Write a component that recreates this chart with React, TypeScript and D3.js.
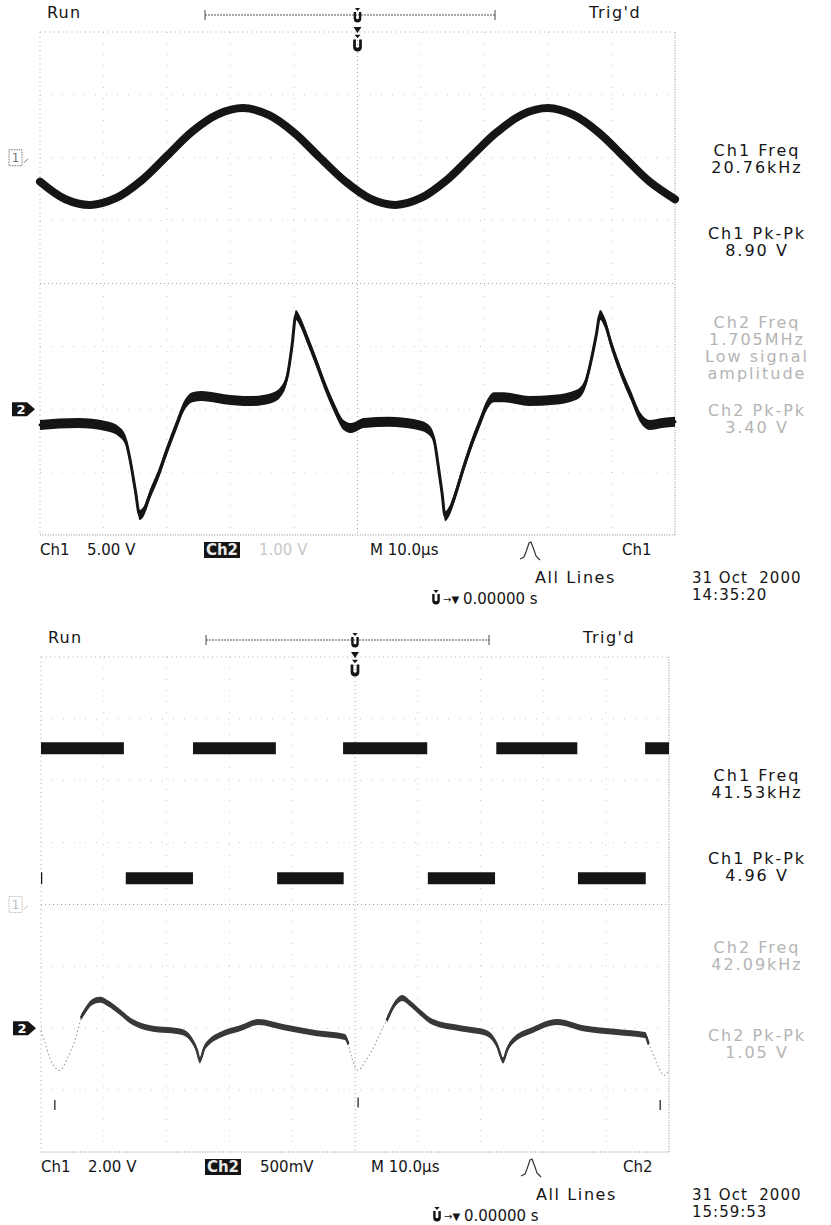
import * as d3 from "d3";

type Pt = [number, number];

// 10 divisions x 10.0 µs, trigger at centre; 8 vertical divisions
const TIME_DOMAIN: Pt = [-50, 50];
const DIV_DOMAIN: Pt = [-4, 4];

// ---------- screen 1 : 31 Oct 2000 14:35:20 ----------
// Ch1 (5.00 V/div, ground +2 div) : [µs, V]
const S1_CH1: Pt[] = [
  [-50, -1.9], [-46, -3.3], [-42, -3.75], [-38, -3.2], [-34, -1.8], [-30, 0.15],
  [-26, 2.1], [-22, 3.45], [-18, 3.95], [-14, 3.4], [-10, 2.0], [-6, 0.05],
  [-2, -1.85], [2, -3.25], [6, -3.75], [10, -3.2], [14, -1.8], [18, 0.15],
  [22, 2.05], [26, 3.45], [30, 3.95], [34, 3.4], [38, 2.0], [42, 0.05],
  [46, -1.9], [50, -3.3],
];
// Ch2 (1.00 V/div, ground -2 div) : [µs, V]
const S1_CH2: Pt[] = [
  [-50, -0.25], [-44, -0.22], [-39.5, -0.27], [-37.5, -0.36], [-36.5, -0.5], [-35.8, -0.81],
  [-35, -1.28], [-34.3, -1.68], [-33.7, -1.63], [-32.7, -1.36], [-31.4, -1.05], [-30, -0.65],
  [-28.5, -0.25], [-27.2, 0.07], [-26, 0.19], [-24.5, 0.21], [-21, 0.16], [-17, 0.13],
  [-13.5, 0.18], [-12, 0.29], [-11, 0.55], [-10.3, 1.02], [-9.7, 1.5], [-9, 1.39],
  [-8, 1.14], [-6.5, 0.75], [-5, 0.34], [-3.5, -0.01], [-2.2, -0.25], [-1, -0.3],
  [1, -0.22], [5, -0.2], [9, -0.24], [11, -0.31], [12, -0.46], [12.7, -0.89],
  [13.3, -1.32], [13.8, -1.7], [14.4, -1.63], [15.4, -1.36], [16.7, -0.93], [18, -0.54],
  [19.3, -0.2], [20.4, 0.07], [21.5, 0.19], [23, 0.19], [27, 0.13], [31, 0.15],
  [34.5, 0.23], [35.8, 0.39], [36.8, 0.78], [37.6, 1.18], [38.2, 1.5], [38.9, 1.39],
  [40, 1.02], [41.5, 0.59], [43, 0.23], [44.6, -0.14], [46, -0.25], [48, -0.22], [50, -0.2],
];
const S1_SETTINGS = ["5.00 V", "1.00 V", "M 10.0µs", "Ch1"];
const S1_STAMP = ["31 Oct  2000", "14:35:20"];
const S1_READOUTS = [
  ["Ch1 Freq", "20.76kHz"],
  ["Ch1 Pk-Pk", "8.90 V"],
  ["Ch2 Freq", "1.705MHz", "Low signal", "amplitude"],
  ["Ch2 Pk-Pk", "3.40 V"],
];

// ---------- screen 2 : 31 Oct 2000 15:59:53 ----------
// Ch1 (2.00 V/div, ground 0 div) square wave: [start µs, end µs] spans at each level
const S2_CH1_HIGH: Pt[] = [[-50, -36.8], [-25.8, -12.6], [-1.9, 11.5], [22.5, 35.4], [46.2, 50]];
const S2_CH1_LOW: Pt[] = [[-50, -49.8], [-36.5, -25.8], [-12.4, -1.8], [11.6, 22.3], [35.5, 46.3]];
const S2_CH1_LEVELS: Pt = [5.05, 0.85];
// Ch2 (500 mV/div, ground -2 div) : [µs, V]
const S2_CH2_A: Pt[] = [
  [-43.6, 0.09], [-42.6, 0.17], [-41.9, 0.21], [-40.6, 0.23], [-39.3, 0.2], [-37.9, 0.15],
  [-35.4, 0.05], [-32.6, 0.0], [-29.9, -0.015], [-27.5, -0.03], [-26, -0.095], [-25.2, -0.175],
  [-24.7, -0.26], [-24, -0.16], [-23.4, -0.12], [-21.5, -0.055], [-18.3, 0.0], [-15.4, 0.05],
  [-11.5, 0.01], [-6.1, -0.04], [-1.6, -0.07], [-1.1, -0.12],
];
const S2_CH2_B: Pt[] = [
  [5.1, 0.07], [6.4, 0.2], [7.5, 0.245], [8.8, 0.2], [9.9, 0.15], [12.4, 0.05],
  [16.7, 0.0], [21, -0.04], [22.6, -0.135], [23.6, -0.26], [24.2, -0.175], [25, -0.11],
  [28.3, -0.015], [32.2, 0.05], [36.3, 0.0], [41.7, -0.03], [46.2, -0.055], [46.7, -0.12],
];
const S2_CH2_FAINT: Pt[][] = [
  [[-50, -0.02], [-49.4, -0.11], [-48.6, -0.24], [-47, -0.34], [-45.7, -0.23], [-44.6, -0.095], [-43.6, 0.09]],
  [[-1.1, -0.12], [-0.5, -0.24], [0.5, -0.34], [1.6, -0.27], [2.7, -0.18], [3.5, -0.095], [5.1, 0.07]],
  [[46.7, -0.12], [47.3, -0.19], [48.2, -0.3], [49.2, -0.38], [50, -0.34]],
];
const S2_CH2_GLITCH: Pt[] = [[-47.8, -0.66], [0.5, -0.64], [48.6, -0.66]];
const S2_SETTINGS = ["2.00 V", "500mV", "M 10.0µs", "Ch2"];
const S2_STAMP = ["31 Oct  2000", "15:59:53"];
const S2_READOUTS = [
  ["Ch1 Freq", "41.53kHz"],
  ["Ch1 Pk-Pk", "4.96 V"],
  ["Ch2 Freq", "42.09kHz"],
  ["Ch2 Pk-Pk", "1.05 V"],
];

const FONT = "'DejaVu Sans', Verdana, sans-serif";
const INK = "#151515";
const DIM = "#b4b4b4";

type Frame = { left: number; right: number; top: number; bottom: number };

function scalesFor(f: Frame) {
  const x = d3.scaleLinear().domain(TIME_DOMAIN).range([f.left, f.right]);
  const div = d3.scaleLinear().domain(DIV_DOMAIN).range([f.bottom, f.top]);
  const chan = (offset: number, voltsPerDiv: number) => (v: number) => div(offset + v / voltsPerDiv);
  return { x, div, chan };
}

function TrigGlyph({ x, y, s = 1 }: { x: number; y: number; s?: number }) {
  return (
    <g transform={`translate(${x},${y}) scale(${s})`} fill={INK}>
      <path d="M-2.6,-8 L2.6,-8 L0,-5 Z" />
      <path d="M-3.8,-4 L-1.4,-4 L-1.4,2.6 Q0,4 1.4,2.6 L1.4,-4 L3.8,-4 L3.8,2.6 Q3.8,6.5 0,6.5 Q-3.8,6.5 -3.8,2.6 Z" />
    </g>
  );
}

function Graticule({ f }: { f: Frame }) {
  const { x, div } = scalesFor(f);
  const cols = d3.range(-50, 51, 10);
  const rows = d3.range(-4, 5, 1);
  const style = (v: number, lo: number, hi: number) =>
    v === 0
      ? { stroke: "#a4a4a4", dash: "1 3" }
      : v === hi
      ? { stroke: "#8c8c8c", dash: "1 1.6" }
      : v === lo
      ? { stroke: "#a8a8a8", dash: "1 3.5" }
      : { stroke: "#c8c8c8", dash: "1 10" };
  return (
    <g>
      {cols.map((t) => {
        const s = style(t, -50, 50);
        return <line key={`c${t}`} x1={x(t)} x2={x(t)} y1={f.top} y2={f.bottom} stroke={s.stroke} strokeDasharray={s.dash} />;
      })}
      {rows.map((r) => {
        const s = style(r, 4, -4);
        return <line key={`r${r}`} x1={f.left} x2={f.right} y1={div(r)} y2={div(r)} stroke={s.stroke} strokeDasharray={s.dash} />;
      })}
    </g>
  );
}

function Trace({ data, x, y, half, width, color, curve }: {
  data: Pt[]; x: (t: number) => number; y: (v: number) => number; half: number; width: number; color: string; curve: d3.CurveFactory;
}) {
  const area = d3.area<Pt>().x((d) => x(d[0])).y0((d) => y(d[1]) + half).y1((d) => y(d[1]) - half).curve(curve);
  const line = d3.line<Pt>().x((d) => x(d[0])).y((d) => y(d[1])).curve(curve);
  return (
    <g>
      <path d={area(data) ?? ""} fill={color} />
      <path d={line(data) ?? ""} fill="none" stroke={color} strokeWidth={width} strokeLinejoin="round" strokeLinecap="round" />
    </g>
  );
}

function Ch1Marker({ y, color }: { y: number; color: string }) {
  return (
    <g>
      <rect x={9} y={y - 8} width={13} height={16} fill="none" stroke={color} strokeDasharray="1.5 1" />
      <text x={15.5} y={y} dy="0.35em" textAnchor="middle" fontSize={12} fontFamily={FONT} fill={color}>1</text>
      <line x1={24} y1={y + 5} x2={28} y2={y + 1} stroke={color} />
    </g>
  );
}

function Ch2Marker({ y, x0 }: { y: number; x0: number }) {
  return (
    <g>
      <path d={`M${x0},${y - 7} L${x0 + 15},${y - 7} L${x0 + 23},${y} L${x0 + 15},${y + 7} L${x0},${y + 7} Z`} fill={INK} />
      <text x={x0 + 9} y={y} dy="0.36em" textAnchor="middle" fontSize={13} fontWeight="bold" fontFamily={FONT} fill="#fff">2</text>
    </g>
  );
}

function Chrome({ f, settings, stamp, readouts, dimFrom, ch2Dim }: {
  f: Frame; settings: string[]; stamp: string[]; readouts: string[][]; dimFrom: number; ch2Dim: boolean;
}) {
  const { x } = scalesFor(f);
  const head = f.top - 20;
  const bar = f.top - 17;
  const row = f.bottom + 15;
  const slots = [118, 201, 290, 378];
  const txt = { fontFamily: FONT, fontSize: 15, fill: INK } as const;
  const bl = f.left + 165;
  const br = f.right - 180;
  const trig = f.left + 480;
  return (
    <g>
      <text x={f.left + 7} y={head} dy="0.35em" {...txt} fontSize={16} letterSpacing={1.2}>Run</text>
      <text x={f.right - 86} y={head} dy="0.35em" {...txt} fontSize={16} letterSpacing={1.5}>Trig'd</text>
      <line x1={bl} x2={br} y1={bar} y2={bar} stroke="#555" strokeDasharray="2 1" />
      <line x1={bl} x2={bl} y1={bar - 5} y2={bar + 5} stroke="#444" />
      <line x1={br} x2={br} y1={bar - 5} y2={bar + 5} stroke="#444" />
      <TrigGlyph x={x(0)} y={bar + 1} />
      <path d={`M${x(0) - 4},${f.top - 5} L${x(0) + 4},${f.top - 5} L${x(0)},${f.top + 1} Z`} fill={INK} />
      <TrigGlyph x={x(0)} y={f.top + 12} s={1.15} />

      {readouts.map((lines, i) =>
        lines.map((s, j) => (
          <text key={`${i}-${j}`} x={757} y={f.top + slots[i] + j * 17} dy="0.35em" textAnchor="middle"
            {...txt} fontSize={16} letterSpacing={2} fill={i >= dimFrom ? DIM : INK}>{s}</text>
        ))
      )}

      <text x={f.left} y={row} dy="0.35em" {...txt}>Ch1</text>
      <text x={f.left + 47} y={row} dy="0.35em" {...txt}>{settings[0]}</text>
      <rect x={f.left + 164} y={row - 8} width={36} height={16} fill={INK} />
      <text x={f.left + 182} y={row} dy="0.35em" textAnchor="middle" {...txt} fontWeight="bold" fill="#e8e8e8">Ch2</text>
      <text x={f.left + 219} y={row} dy="0.35em" {...txt} fill={ch2Dim ? "#c8c8c8" : INK}>{settings[1]}</text>
      <text x={f.left + 330} y={row} dy="0.35em" {...txt}>{settings[2]}</text>
      <path d={`M${trig},${row + 9} l4,-2 l2,-5 l3,-9 l2,-1 l3,8 l2,6 l4,4`} fill="none" stroke="#333" strokeWidth={1.2} />
      <text x={f.left + 582} y={row} dy="0.35em" {...txt}>{settings[3]}</text>
      <text x={f.left + 495} y={f.bottom + 42} dy="0.35em" {...txt} fontSize={16} letterSpacing={1.6}>All Lines</text>
      <TrigGlyph x={f.left + 396} y={f.bottom + 63} />
      <text x={f.left + 403} y={f.bottom + 64} dy="0.35em" {...txt} fontSize={10}>→▼</text>
      <text x={f.left + 423} y={f.bottom + 64} dy="0.35em" {...txt}>0.00000 s</text>
      <text x={692} y={f.bottom + 43} dy="0.35em" {...txt} letterSpacing={1} style={{ whiteSpace: "pre" }}>{stamp[0]}</text>
      <text x={692} y={f.bottom + 60} dy="0.35em" {...txt} letterSpacing={1}>{stamp[1]}</text>
    </g>
  );
}

export default function App() {
  const f1: Frame = { left: 40, right: 675, top: 32, bottom: 535 };
  const f2: Frame = { left: 41, right: 669, top: 657, bottom: 1152 };
  const s1 = scalesFor(f1);
  const s2 = scalesFor(f2);
  const s1ch1 = s1.chan(2, 5);
  const s1ch2 = s1.chan(-2, 1);
  const s2ch1 = s2.chan(0, 2);
  const s2ch2 = s2.chan(-2, 0.5);
  const faint = d3.line<Pt>().x((d) => s2.x(d[0])).y((d) => s2ch2(d[1])).curve(d3.curveMonotoneX);

  return (
    <svg width={831} height={1225} viewBox="0 0 831 1225"
      style={{ position: "absolute", left: 0, top: 0, display: "block", background: "#fff" }}>
      <rect width={831} height={1225} fill="#fff" />

      {/* screen 1 */}
      <Graticule f={f1} />
      <Trace data={S1_CH1} x={s1.x} y={s1ch1} half={2} width={8} color={INK} curve={d3.curveCatmullRom} />
      <Trace data={S1_CH2} x={s1.x} y={s1ch2} half={5} width={3} color={INK} curve={d3.curveMonotoneX} />
      <Ch1Marker y={s1ch1(0)} color="#777" />
      <Ch2Marker y={s1ch2(0)} x0={12} />
      <Chrome f={f1} settings={S1_SETTINGS} stamp={S1_STAMP} readouts={S1_READOUTS} dimFrom={2} ch2Dim />

      {/* screen 2 */}
      <Graticule f={f2} />
      {S2_CH1_HIGH.map((d, i) => (
        <line key={`h${i}`} x1={s2.x(d[0])} x2={s2.x(d[1])} y1={s2ch1(S2_CH1_LEVELS[0])} y2={s2ch1(S2_CH1_LEVELS[0])} stroke={INK} strokeWidth={12} />
      ))}
      {S2_CH1_LOW.map((d, i) => (
        <line key={`l${i}`} x1={s2.x(d[0])} x2={s2.x(d[1])} y1={s2ch1(S2_CH1_LEVELS[1])} y2={s2ch1(S2_CH1_LEVELS[1])} stroke={INK} strokeWidth={12} />
      ))}
      {S2_CH2_FAINT.map((d, i) => (
        <path key={`f${i}`} d={faint(d) ?? ""} fill="none" stroke="#a0a0a0" strokeWidth={1.2} strokeDasharray="1.5 2.5" />
      ))}
      {S2_CH2_GLITCH.map((d, i) => (
        <line key={`g${i}`} x1={s2.x(d[0])} x2={s2.x(d[0])} y1={s2ch2(d[1] + 0.08)} y2={s2ch2(d[1])} stroke="#444" strokeWidth={1.5} />
      ))}
      <Trace data={S2_CH2_A} x={s2.x} y={s2ch2} half={3} width={2.5} color="#383838" curve={d3.curveMonotoneX} />
      <Trace data={S2_CH2_B} x={s2.x} y={s2ch2} half={3} width={2.5} color="#383838" curve={d3.curveMonotoneX} />
      <Ch1Marker y={s2ch1(0)} color="#bdbdbd" />
      <Ch2Marker y={s2ch2(0)} x0={13} />
      <Chrome f={f2} settings={S2_SETTINGS} stamp={S2_STAMP} readouts={S2_READOUTS} dimFrom={2} ch2Dim={false} />
    </svg>
  );
}
